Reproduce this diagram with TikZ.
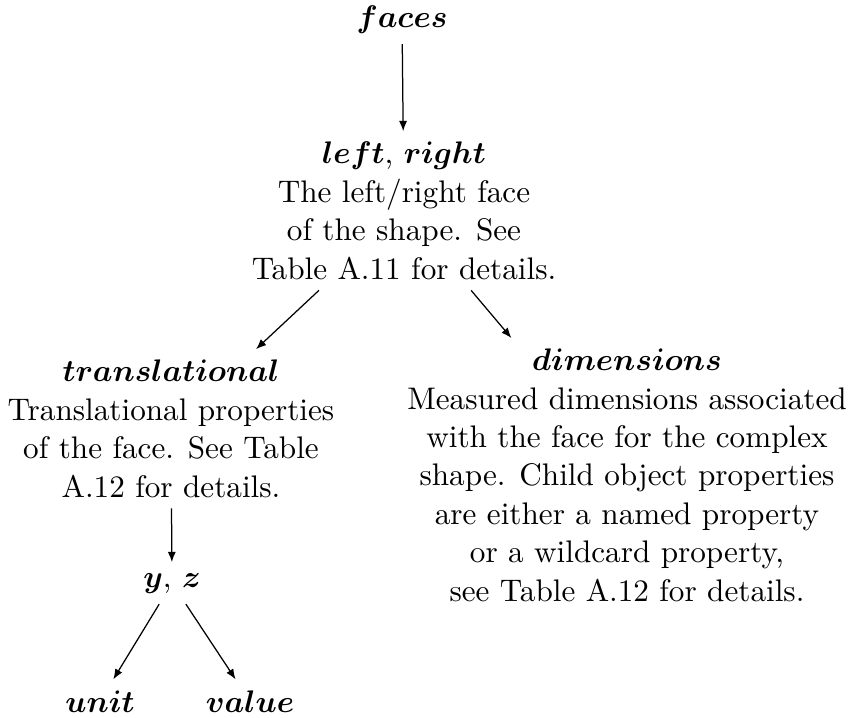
\documentclass[tikz,border=0pt]{standalone}
\usepackage{amsmath,amssymb}
\usetikzlibrary{arrows.meta}
\tikzset{entry/.style={align=center, anchor=base,
  font=\fontsize{10}{12.3}\selectfont}}

\begin{document}
\begin{tikzpicture}[x=0.3205pt, y=-0.3205pt,
  >={Latex[length=3.3pt,width=2.6pt]}]
  \useasboundingbox (0,0) rectangle (848,717);
  \node[entry] (faces) at (402, 27) {$\boldsymbol{faces}$};
  \node[entry] (lr) at (404, 279) {$\boldsymbol{left}$, $\boldsymbol{right}$\\
    The left/right face\\ of the shape. See\\ Table A.11 for details.};
  \node[entry] (tr) at (171, 497) {$\boldsymbol{translational}$\\
    Translational properties\\ of the face. See Table\\ A.12 for details.};
  \node[entry] (dims) at (627, 601) {$\boldsymbol{dimensions}$\\
    Measured dimensions associated\\ with the face for the complex\\
    shape. Child object properties\\ are either a named property\\
    or a wildcard property,\\ see Table A.12 for details.};
  \node[entry] (yz) at (172, 587) {$\boldsymbol{y}$, $\boldsymbol{z}$};
  \node[entry] (unit) at (100, 712) {$\boldsymbol{unit}$};
  \node[entry] (value) at (250, 712) {$\boldsymbol{value}$};
  \draw[->] (faces) -- (lr);
  \draw[->] (lr) -- (tr);
  \draw[->] (lr) -- (dims);
  \draw[->] (tr) -- (yz);
  \draw[->] (yz) -- (unit);
  \draw[->] (yz) -- (value);
\end{tikzpicture}
\end{document}
